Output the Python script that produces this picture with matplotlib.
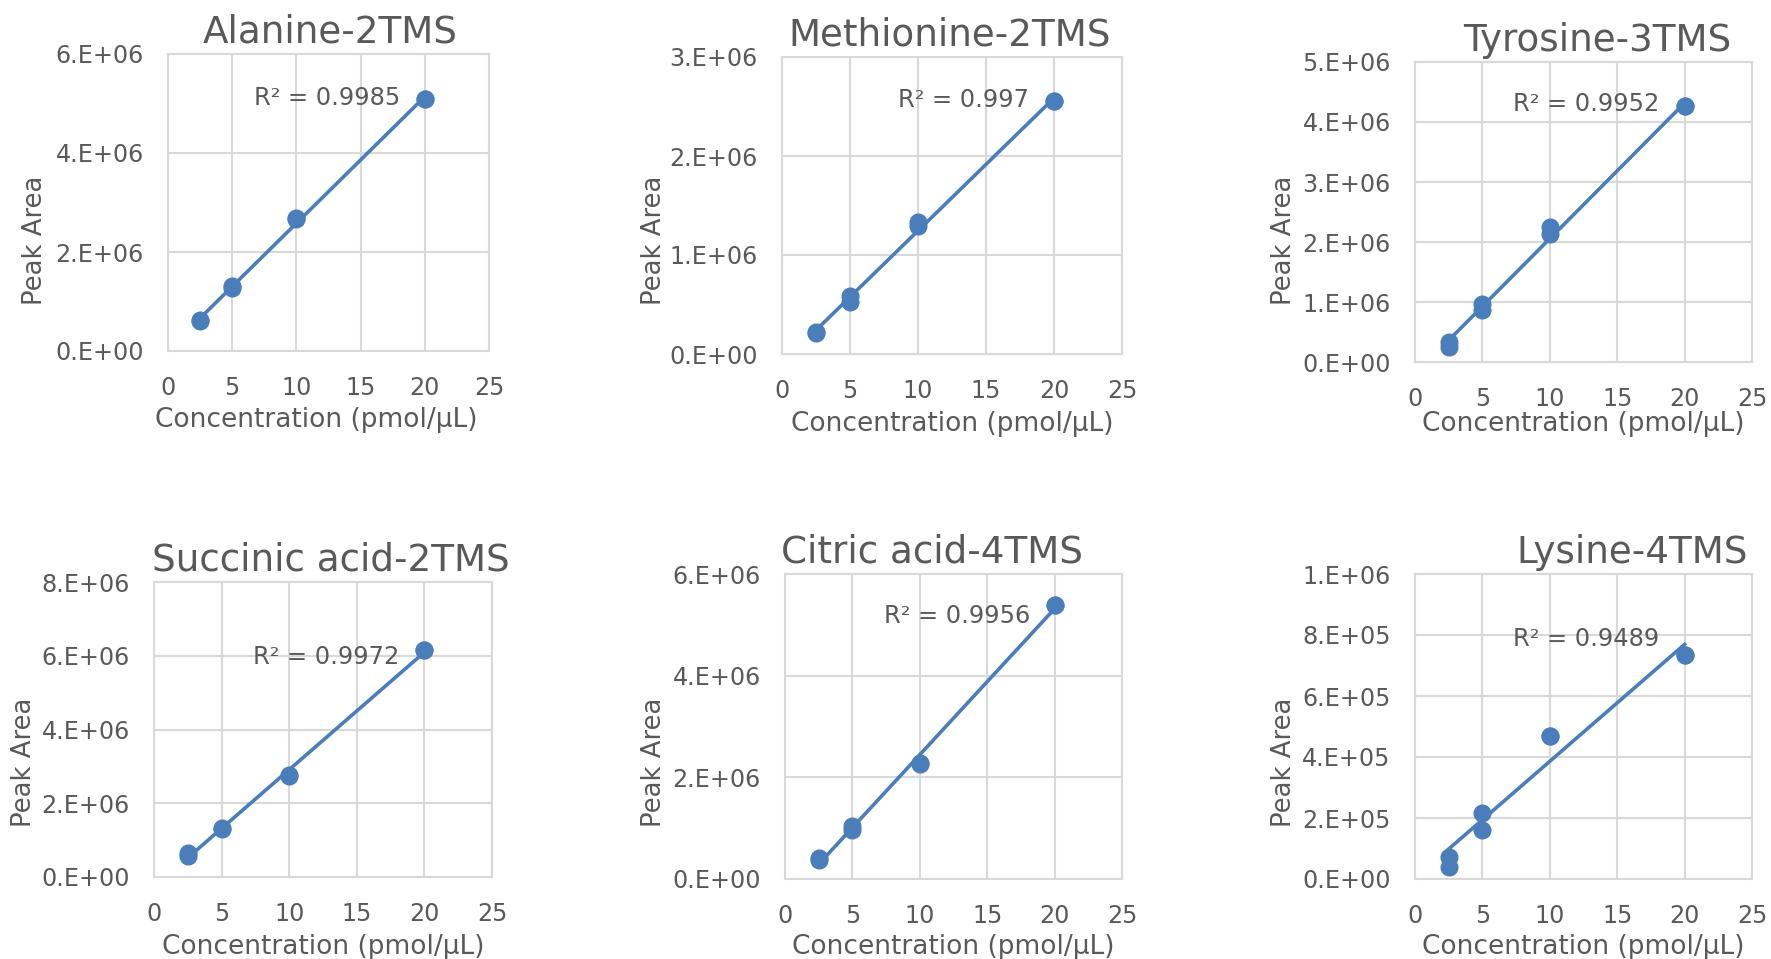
import numpy as np
import matplotlib
matplotlib.use("Agg")
import matplotlib.pyplot as plt

plt.rcParams['font.family'] = ['DejaVu Sans']

# ---------------- data ----------------
titles = ["Alanine-2TMS", "Methionine-2TMS", "Tyrosine-3TMS",
          "Succinic acid-2TMS", "Citric acid-4TMS", "Lysine-4TMS"]
r2_labels = ["R² = 0.9985", "R² = 0.997", "R² = 0.9952",
             "R² = 0.9972", "R² = 0.9956", "R² = 0.9489"]

conc = [2.5, 2.5, 5, 5, 10, 10, 20, 20]

alanine    = [0.62e6, 0.61e6, 1.32e6, 1.28e6, 2.68e6, 2.66e6, 5.10e6, 5.10e6]
methionine = [0.226e6, 0.21e6, 0.586e6, 0.53e6, 1.33e6, 1.29e6, 2.56e6, 2.56e6]
tyrosine   = [0.334e6, 0.25e6, 0.963e6, 0.874e6, 2.25e6, 2.13e6, 4.26e6, 4.26e6]
succinic   = [0.66e6, 0.56e6, 1.33e6, 1.30e6, 2.77e6, 2.75e6, 6.16e6, 6.16e6]
citric     = [0.41e6, 0.38e6, 1.04e6, 0.96e6, 2.29e6, 2.27e6, 5.39e6, 5.39e6]
lysine     = [0.73e5, 0.38e5, 2.15e5, 1.61e5, 4.70e5, 4.70e5, 7.34e5, 7.34e5]
series = [alanine, methionine, tyrosine, succinic, citric, lysine]

x_ticks = [0, 5, 10, 15, 20, 25]
y_ticks = [
    [0, 2e6, 4e6, 6e6],
    [0, 1e6, 2e6, 3e6],
    [0, 1e6, 2e6, 3e6, 4e6, 5e6],
    [0, 2e6, 4e6, 6e6, 8e6],
    [0, 2e6, 4e6, 6e6],
    [0, 2e5, 4e5, 6e5, 8e5, 10e5],
]
y_ticklabels = [
    ["0.E+00", "2.E+06", "4.E+06", "6.E+06"],
    ["0.E+00", "1.E+06", "2.E+06", "3.E+06"],
    ["0.E+00", "1.E+06", "2.E+06", "3.E+06", "4.E+06", "5.E+06"],
    ["0.E+00", "2.E+06", "4.E+06", "6.E+06", "8.E+06"],
    ["0.E+00", "2.E+06", "4.E+06", "6.E+06"],
    ["0.E+00", "2.E+05", "4.E+05", "6.E+05", "8.E+05", "1.E+06"],
]

# ---------------- layout (pixels in 1771x959 canvas) ----------------
W, H = 1771, 959
boxes = [  # left, right, top, bottom
    (168, 489, 54, 351),
    (782, 1122, 57, 354),
    (1415, 1752, 62, 362),
    (154, 492, 582, 877),
    (785, 1122, 574, 879),
    (1415, 1752, 574, 879),
]
title_x = [0.505, 0.494, 0.540, 0.524, 0.436, 0.644]
ylab_pos = [(-0.375, 0.374), (-0.339, 0.384), (-0.351, 0.407),
            (-0.347, 0.39), (-0.351, 0.384), (-0.351, 0.384)]
xlab_pos = [(0.461, -0.188), (0.5, -0.191), (0.5, -0.163),
            (0.5, -0.193), (0.5, -0.18), (0.5, -0.18)]
r2_pos = [(0.723, 0.851), (0.726, 0.855), (0.724, 0.86),
          (0.725, 0.747), (0.727, 0.863), (0.724, 0.787)]

BLUE = "#4a7ebb"
GRID = "#d9d9d9"
TXT = "#595959"

fig = plt.figure(figsize=(W / 100, H / 100), dpi=100)

for i in range(6):
    l, r, t, b = boxes[i]
    ax = fig.add_axes([l / W, 1 - b / H, (r - l) / W, (b - t) / H])
    x = np.array(conc, dtype=float)
    y = np.array(series[i], dtype=float)

    ax.set_xlim(0, 25)
    ax.set_ylim(y_ticks[i][0], y_ticks[i][-1])
    ax.set_xticks(x_ticks)
    ax.set_xticklabels([str(v) for v in x_ticks])
    ax.set_yticks(y_ticks[i])
    ax.set_yticklabels(y_ticklabels[i])
    ax.grid(True, color=GRID, linewidth=1.5)
    ax.set_axisbelow(True)
    for s in ax.spines.values():
        s.set_color(GRID)
        s.set_linewidth(1.5)
    ax.tick_params(length=0, labelsize=17.2, labelcolor=TXT)
    ax.tick_params(axis='x', pad=18)
    ax.tick_params(axis='y', pad=17.5)

    # linear trendline
    k, c = np.polyfit(x, y, 1)
    xs = np.array([x.min(), x.max()])
    ax.plot(xs, k * xs + c, color=BLUE, linewidth=2.6, zorder=3)
    ax.plot(x, y, 'o', color=BLUE, markersize=12, zorder=4)

    ax.text(r2_pos[i][0], r2_pos[i][1], r2_labels[i], transform=ax.transAxes,
            ha='right', va='center', fontsize=17.4, color=TXT, zorder=5)

    ax.set_title(titles[i], fontsize=26.8, color=TXT, x=title_x[i], pad=8)
    ax.set_ylabel("Peak Area", fontsize=18.6, color=TXT)
    ax.set_xlabel("Concentration (pmol/μL)", fontsize=19, color=TXT)
    ax.yaxis.set_label_coords(*ylab_pos[i])
    ax.xaxis.set_label_coords(*xlab_pos[i])
    ax.xaxis.label.set_va('top')

fig.savefig("out.png", dpi=100, facecolor="white")
